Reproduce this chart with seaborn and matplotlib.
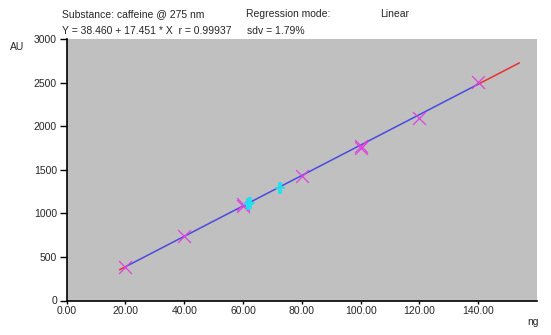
import numpy as np
import pandas as pd
import matplotlib
matplotlib.use("Agg")
import matplotlib.pyplot as plt
from matplotlib.path import Path
import seaborn as sns

# ---- data ----
std_amount = [20, 40, 60, 60, 80, 100, 100, 120, 140]          # ng
std_area = [382, 745, 1080, 1105, 1425, 1750, 1772, 2090, 2505]  # AU
sample_amount = [61.6, 62.5, 72.5]
sample_area = [1108, 1118, 1292]
intercept = 38.460
slope = 17.451
fit_x = [20, 140]
extrap_lo_x = [18, 20]
extrap_hi_x = [140, 154]
x_ticks = [0, 20, 40, 60, 80, 100, 120, 140]
y_ticks = [0, 500, 1000, 1500, 2000, 2500, 3000]

sns.set_style("white")
plt.rcParams['font.family'] = ['Liberation Sans', 'DejaVu Sans']

fig = plt.figure(figsize=(5.51, 3.35), dpi=100)
ax = fig.add_axes([66.7/551, 1-300.5/335, (537-66.7)/551, (300.5-39)/335])
ax.set_facecolor("#c0c0c0")

def line_df(xs):
    xs = np.asarray(xs, dtype=float)
    return pd.DataFrame({"x": xs, "y": intercept + slope*xs})

for xs, c in [(extrap_lo_x, "#e83030"), (extrap_hi_x, "#e83030"), (fit_x, "#4a4ae0")]:
    d = line_df(xs)
    sns.lineplot(data=d, x="x", y="y", ax=ax, color=c, linewidth=1.1, sort=False)

sns.scatterplot(x=std_amount, y=std_area, ax=ax, marker="x", s=85,
                color="#e040e0", linewidth=0.9, zorder=5)

hash_marker = Path([(-0.25, -1), (-0.25, 1), (0.25, -1), (0.25, 1), (-0.8, 0), (0.8, 0)],
                   [Path.MOVETO, Path.LINETO, Path.MOVETO, Path.LINETO, Path.MOVETO, Path.LINETO])
sns.scatterplot(x=sample_amount, y=sample_area, ax=ax, marker=hash_marker, s=70,
                color="#20e0f0", edgecolor="#20e0f0", linewidth=1.3, zorder=6)

ax.set_xlim(0, 160)
ax.set_ylim(0, 3000)
ax.set_xticks(x_ticks)
ax.set_xticklabels([f"{v:.2f}" for v in x_ticks])
ax.set_yticks(y_ticks)
ax.set_yticklabels([str(v) for v in y_ticks])
ax.tick_params(axis="x", direction="out", length=2.2, width=1, color="black",
               labelsize=7.5, pad=1.5, bottom=True)
ax.tick_params(axis="y", direction="out", length=5, width=1, color="black",
               labelsize=7.5, pad=2, left=True)
for s in ["top", "right"]:
    ax.spines[s].set_visible(False)
for s in ["left", "bottom"]:
    ax.spines[s].set_color("black")
    ax.spines[s].set_linewidth(1.2)
ax.set_xlabel("")
ax.set_ylabel("")

fs = 7.5
fig.text(62/551, 1-14/335, "Substance: caffeine @ 275 nm", fontsize=fs, va="center")
fig.text(246/551, 1-14/335, "Regression mode:", fontsize=fs, va="center")
fig.text(380/551, 1-14/335, "Linear", fontsize=fs, va="center")
fig.text(62/551, 1-30.5/335, "Y = 38.460 + 17.451 * X  r = 0.99937", fontsize=fs, va="center")
fig.text(247/551, 1-30.5/335, "sdv = 1.79%", fontsize=fs, va="center")
fig.text(10/551, 1-47/335, "AU", fontsize=fs, va="center")
fig.text(527/551, 1-322/335, "ng", fontsize=fs, va="center")

fig.savefig("out.png", dpi=100)
